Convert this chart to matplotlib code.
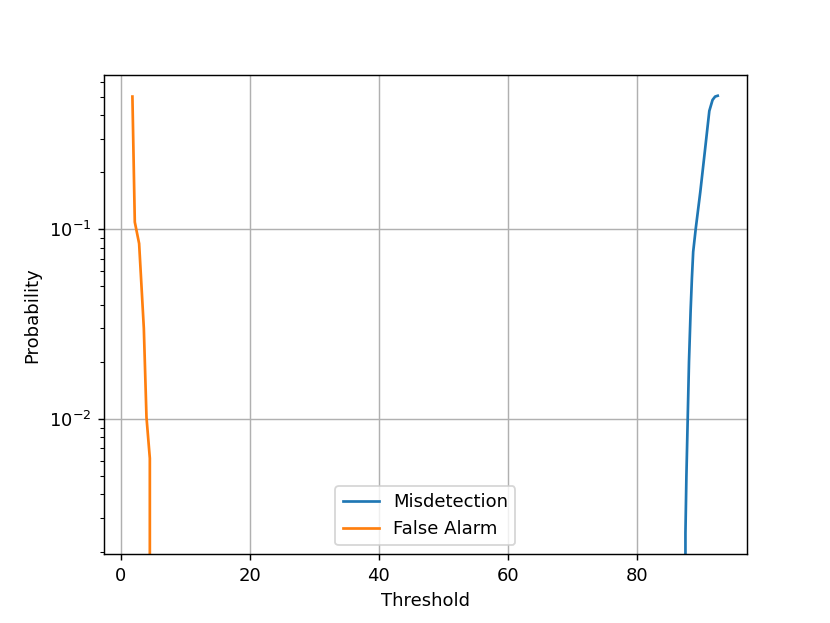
import matplotlib
matplotlib.use("Agg")
import matplotlib.pyplot as plt

# misdetection probability vs threshold
md_threshold = [87.45, 87.5, 87.65, 87.85, 88.05, 88.3, 88.5, 88.7, 89.1, 89.8,
                90.5, 91.2, 91.7, 92.1, 92.5]
md_prob = [0.0, 0.0025, 0.005, 0.010, 0.020, 0.037, 0.055, 0.076, 0.101, 0.157,
           0.256, 0.42, 0.48, 0.50, 0.505]

# false alarm probability vs threshold
fa_threshold = [1.8, 2.17, 2.84, 3.57, 3.98, 4.5, 4.5]
fa_prob = [0.50, 0.109, 0.084, 0.030, 0.0102, 0.0062, 0.0]

fig = plt.figure(figsize=(6.4, 4.805), dpi=129.7)
ax = fig.add_subplot(111)
ax.plot(md_threshold, md_prob, label="Misdetection")
ax.plot(fa_threshold, fa_prob, label="False Alarm")
ax.set_yscale("log")
ax.set_xlim(-2.64, 97.05)
ax.set_ylim(0.00193, 0.653)
ax.grid(True)
ax.set_xlabel("Threshold")
ax.set_ylabel("Probability")
ax.legend(loc="lower center")
fig.savefig("out.png")
